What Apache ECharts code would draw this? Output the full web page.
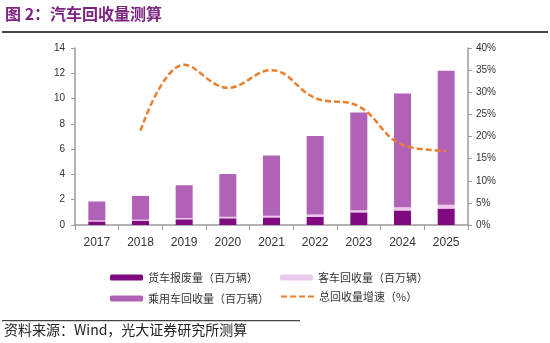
<!DOCTYPE html>
<html><head><meta charset="utf-8">
<script src="https://cdn.jsdelivr.net/npm/echarts@6/dist/echarts.min.js"></script>
<style>html,body{margin:0;padding:0;background:#fff}#c{width:550px;height:343px}</style>
</head><body><div id="c"></div>
<script>
const categories = ['2017','2018','2019','2020','2021','2022','2023','2024','2025'];
const truckScrap = [0.28, 0.34, 0.45, 0.53, 0.6, 0.65, 1.0, 1.15, 1.3];
const busRecycle = [0.08, 0.08, 0.1, 0.12, 0.14, 0.18, 0.17, 0.25, 0.3];
const carRecycle = [1.5, 1.88, 2.59, 3.38, 4.76, 6.21, 7.73, 9.0, 10.6];
const growthRate = [null, 21.3, 36.2, 31.0, 35.0, 28.7, 26.8, 18.1, 16.8];
const leftTicks = {min: 0, max: 14, interval: 2};
const rightTicks = {min: 0, max: 40, interval: 5};
const names = ['货车报废量（百万辆）','客车回收量（百万辆）','乘用车回收量（百万辆）','总回收量增速（%）'];

const chart = echarts.init(document.getElementById('c'));
const axisColor = '#9a9a9a';
const lbl = {color:'#333', fontSize:10, fontFamily:'Liberation Sans, Arial, sans-serif'};
function leg(name, left, top, isLine){
  const o = {data:[name], left:left, top:top, itemWidth:33, itemHeight:6, itemGap:0,
    textStyle:{color:'#333', fontSize:11, fontFamily:'Noto Sans CJK SC'}, selectedMode:false};
  if(isLine){ o.itemHeight = 10; o.itemStyle = {opacity:0}; }
  return o;
}
chart.setOption({
  animation:false,
  grid:{left:75, right:82, top:48, bottom:118},
  legend:[leg(names[0],105,267), leg(names[1],275,267), leg(names[2],105,288), leg(names[3],275,286,true)],
  graphic:[
    {type:'text', left:5, top:6, style:{text:'图 2：汽车回收量测算', fill:'#7B2480', font:'bold 16px "Noto Sans CJK SC"'}},
    {type:'rect', shape:{x:2, y:31, width:546, height:2}, style:{fill:'#444'}},
    {type:'rect', shape:{x:2, y:320, width:298, height:1.2}, style:{fill:'#444'}},
    {type:'text', left:4, top:323, style:{text:'资料来源：Wind，光大证券研究所测算', fill:'#222', font:'14px "Noto Sans CJK SC"'}}
  ],
  xAxis:{type:'category', data:categories,
    axisLine:{lineStyle:{color:axisColor, width:1.5}},
    axisTick:{show:true, alignWithLabel:false, length:5, lineStyle:{color:axisColor}},
    axisLabel:{color:'#333', fontSize:12, margin:12, fontFamily:'Liberation Sans, Arial, sans-serif'}},
  yAxis:[
    {type:'value', min:leftTicks.min, max:leftTicks.max, interval:leftTicks.interval,
      axisLine:{show:true, lineStyle:{color:axisColor, width:1.5}},
      axisTick:{show:true, length:4, lineStyle:{color:axisColor}},
      splitLine:{show:false}, axisLabel:Object.assign({margin:10}, lbl)},
    {type:'value', min:rightTicks.min, max:rightTicks.max, interval:rightTicks.interval, position:'right',
      axisLine:{show:true, lineStyle:{color:axisColor, width:1.5}},
      axisTick:{show:true, length:4, lineStyle:{color:axisColor}},
      splitLine:{show:false}, axisLabel:Object.assign({margin:8, formatter:'{value}%'}, lbl)}
  ],
  series:[
    {name:names[0], type:'bar', stack:'t', data:truckScrap, barWidth:17, itemStyle:{color:'#800A80'}},
    {name:names[1], type:'bar', stack:'t', data:busRecycle, barWidth:17, itemStyle:{color:'#EBC9EC'}},
    {name:names[2], type:'bar', stack:'t', data:carRecycle, barWidth:17, itemStyle:{color:'#B262B6'}},
    {name:names[3], type:'line', yAxisIndex:1, data:growthRate, smooth:0.4, symbol:'none', showSymbol:false,
      lineStyle:{color:'#E8802E', width:2.5, type:[6,3]}, itemStyle:{color:'#E8802E'}}
  ]
});
</script></body></html>
